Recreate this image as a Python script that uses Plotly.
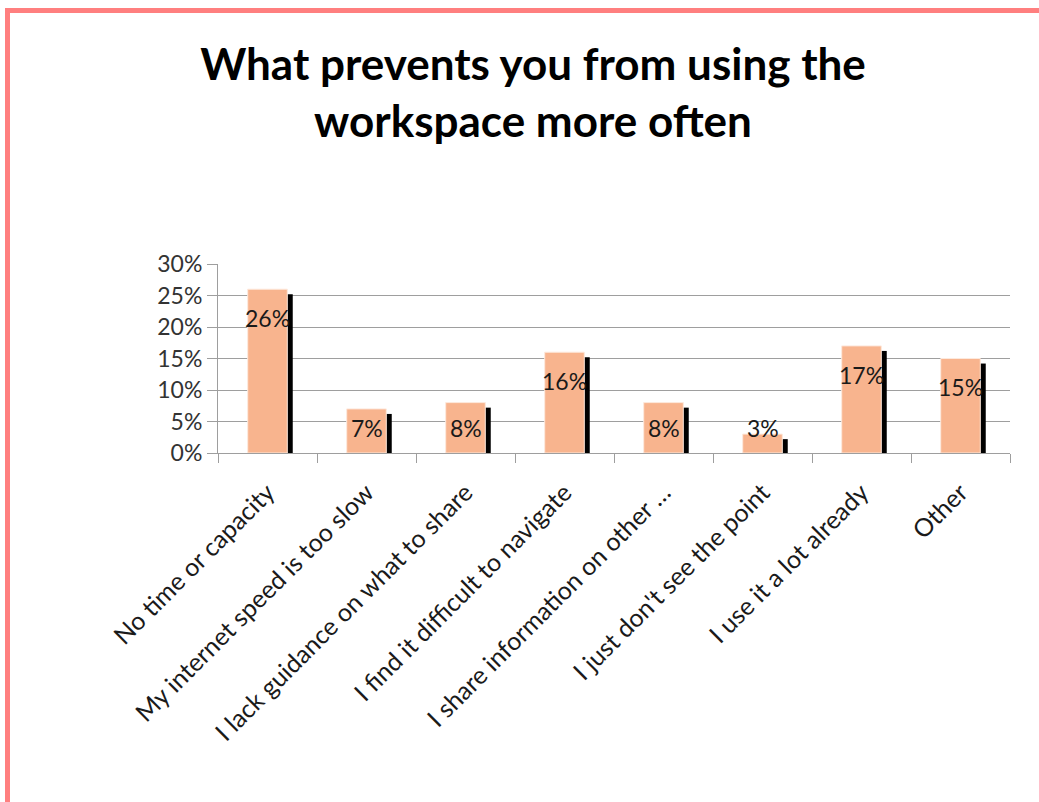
import plotly.graph_objects as go

# Survey responses
categories = [
    "No time or capacity",
    "My internet speed is too slow",
    "I lack guidance on what to share",
    "I find it difficult to navigate",
    "I share information on other …",
    "I just don't see the point",
    "I use it a lot already",
    "Other",
]
shares = [26, 7, 8, 16, 8, 3, 17, 15]
y_ticks = [0, 5, 10, 15, 20, 25, 30]
y_tick_labels = ["0%", "5%", "10%", "15%", "20%", "25%", "30%"]

W, H = 1039, 802
ML, MR, MT, MB = 218, 29, 264, 349
FONT = "Lato, 'Open Sans', sans-serif"
BAR = "#F8B48E"
GRID = "#9E9E9E"


def px_to_paper_x(px):
    return (px - ML) / (W - ML - MR)


def px_to_paper_y(py):
    return (H - MB - py) / (H - MT - MB)


fig = go.Figure()

# drop shadow behind each column (same heights, shifted right and down)
fig.add_trace(go.Bar(
    x=categories, y=shares, base=-0.8,
    width=0.065, offset=0.19,
    marker=dict(color="#000000", line=dict(width=0)),
    hoverinfo="skip", showlegend=False,
))

# main columns
fig.add_trace(go.Bar(
    x=categories, y=shares,
    width=0.4, offset=-0.2,
    marker=dict(color=BAR, line=dict(color="#FDE9DD", width=1)),
    showlegend=False,
))

# value labels near the top of each column, kept above the axis for short bars
for cat, v in zip(categories, shares):
    fig.add_annotation(
        x=cat, y=max(v - 4.6, 4.0), xref="x", yref="y",
        text=f"{v}%", showarrow=False, yanchor="middle",
        font=dict(family=FONT, size=23, color="#1a1a1a"),
    )

# slide frame (top and left edges)
frame = "#FF7F7F"
fig.add_shape(type="line", xref="paper", yref="paper",
              x0=px_to_paper_x(5), x1=px_to_paper_x(W + 5),
              y0=px_to_paper_y(10.5), y1=px_to_paper_y(10.5),
              line=dict(color=frame, width=5))
fig.add_shape(type="line", xref="paper", yref="paper",
              x0=px_to_paper_x(7.5), x1=px_to_paper_x(7.5),
              y0=px_to_paper_y(8), y1=px_to_paper_y(H + 5),
              line=dict(color=frame, width=5))

fig.update_layout(
    width=W, height=H,
    margin=dict(l=ML, r=MR, t=MT, b=MB),
    paper_bgcolor="white", plot_bgcolor="white",
    barmode="overlay",
    title=dict(
        text="<b>What prevents you from using the<br>workspace more often</b>",
        x=533 / W, xref="container", xanchor="center",
        y=1 - 80 / H, yref="container", yanchor="middle",
        font=dict(family=FONT, size=44, color="black"),
    ),
    font=dict(family=FONT, color="#222222"),
)

fig.update_xaxes(
    type="category", tickson="boundaries",
    ticks="outside", ticklen=9, tickcolor=GRID,
    showline=True, linecolor=GRID, linewidth=1,
    showgrid=False, tickangle=-45,
    ticklabelstandoff=14,
    tickfont=dict(family=FONT, size=25, color="#1a1a1a"),
    range=[-0.5, 7.5],
)
fig.update_yaxes(
    range=[0, 30], tickvals=y_ticks, ticktext=y_tick_labels,
    ticks="outside", ticklen=10, tickcolor=GRID,
    showline=True, linecolor=GRID, linewidth=1,
    showgrid=True, gridcolor=GRID, gridwidth=1,
    zeroline=False,
    tickfont=dict(family=FONT, size=23, color="#333333"),
)

fig.write_html("out.html")
